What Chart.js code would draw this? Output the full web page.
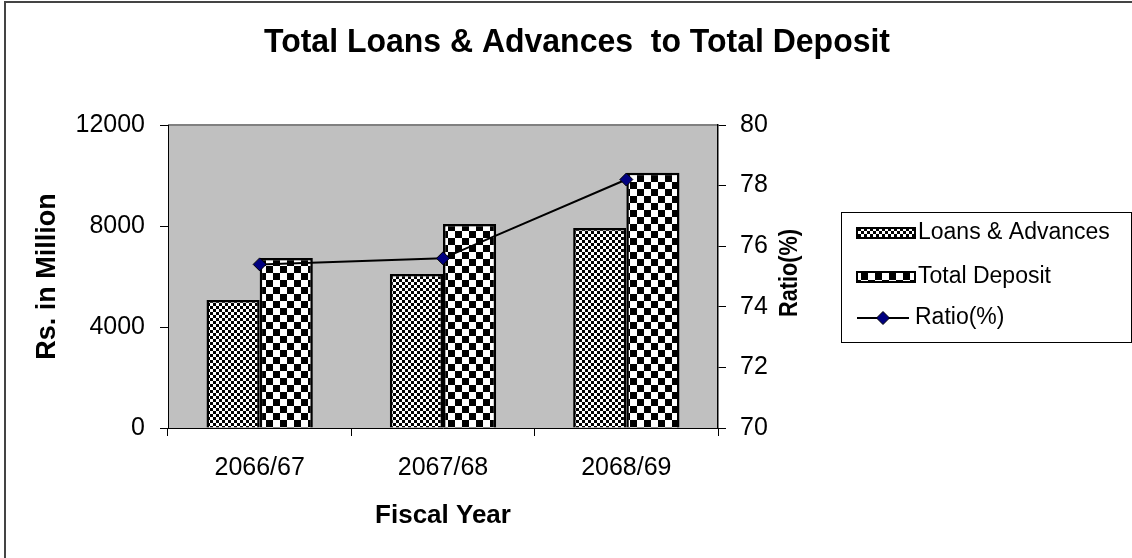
<!DOCTYPE html>
<html>
<head>
<meta charset="utf-8">
<script src="https://cdn.jsdelivr.net/npm/chart.js@4.4.0/dist/chart.umd.min.js"></script>
<style>
  html, body { margin: 0; padding: 0; background: #fff; }
</style>
</head>
<body>
<canvas id="myChart" width="1132" height="558"></canvas>
<script>
// values
const years = ['2066/67', '2067/68', '2068/69'];
const loans = [5070, 6100, 7920];
const deposits = [6730, 8080, 10110];
const ratio = [75.4, 75.6, 78.2];
const leftTicks = [0, 4000, 8000, 12000];
const rightTicks = [70, 72, 74, 76, 78, 80];

Chart.defaults.font.family = '"Liberation Sans", Arial, sans-serif';
Chart.defaults.color = '#000';

// checkerboard fills like the old excel patterns
const checker = (cell) => {
    const c = document.createElement('canvas');
    c.width = cell * 2;
    c.height = cell * 2;
    const g = c.getContext('2d');
    g.fillStyle = '#fff';
    g.fillRect(0, 0, cell * 2, cell * 2);
    g.fillStyle = '#000';
    g.fillRect(0, 0, cell, cell);
    g.fillRect(cell, cell, cell, cell);
    return g.createPattern(c, 'repeat');
}

const smallCheck = checker(3);
const bigCheck = checker(7);

const plotBg = {
    id: 'plotBg',
    beforeDraw(chart) {
        const {ctx, chartArea: a} = chart;
        ctx.save();
        ctx.fillStyle = '#c0c0c0';
        ctx.fillRect(a.left, a.top, a.right - a.left, a.bottom - a.top);
        ctx.strokeStyle = '#808080';
        ctx.lineWidth = 2;
        ctx.beginPath();
        ctx.moveTo(a.left, a.top);
        ctx.lineTo(a.right, a.top);
        ctx.stroke();
        // outer frame (only top and left show)
        ctx.strokeStyle = '#444';
        ctx.lineWidth = 2;
        ctx.beginPath();
        ctx.moveTo(5, 558);
        ctx.lineTo(5, 2);
        ctx.lineTo(1132, 2);
        ctx.stroke();
        ctx.restore();
    }
};

const extras = {
    id: 'extras',
    afterDraw(chart) {
        const ctx = chart.ctx;
        const ds = chart.data.datasets;
        ctx.save();

        // chart title
        ctx.fillStyle = '#000';
        ctx.font = 'bold 34px "Liberation Sans", Arial, sans-serif';
        ctx.textAlign = 'center';
        ctx.textBaseline = 'middle';
        ctx.fillText('Total Loans & Advances  to Total Deposit', 577, 43, 626);

        // right axis title, reads bottom to top
        ctx.save();
        ctx.translate(790, 273);
        ctx.rotate(-Math.PI / 2);
        ctx.font = 'bold 26px "Liberation Sans", Arial, sans-serif';
        ctx.fillText('Ratio(%)', 0, 0, 88);
        ctx.restore();

        // legend
        ctx.strokeStyle = '#000';
        ctx.lineWidth = 1;
        ctx.strokeRect(841.5, 212.5, 290, 130);

        ctx.font = '23px "Liberation Sans", Arial, sans-serif';
        ctx.textAlign = 'left';
        const rows = [233, 277, 318];

        for (let i = 0; i < 2; i++) {
            ctx.fillStyle = ds[i].backgroundColor;
            ctx.fillRect(857, rows[i] - 5, 58, 10);
            ctx.lineWidth = 2;
            ctx.strokeRect(857, rows[i] - 5, 58, 10);
            ctx.fillStyle = '#000';
            ctx.fillText(ds[i].label, 918, rows[i]);
        }

        const y = rows[2];
        ctx.lineWidth = 2;
        ctx.beginPath();
        ctx.moveTo(857, y);
        ctx.lineTo(909, y);
        ctx.stroke();
        ctx.fillStyle = ds[2].pointBackgroundColor;
        ctx.beginPath();
        ctx.moveTo(883 - 6.5, y);
        ctx.lineTo(883, y - 6.5);
        ctx.lineTo(883 + 6.5, y);
        ctx.lineTo(883, y + 6.5);
        ctx.closePath();
        ctx.fill();
        ctx.lineWidth = 1;
        ctx.stroke();
        ctx.fillStyle = '#000';
        ctx.fillText(ds[2].label, 915, y);

        ctx.restore();
    }
};

const plain = (v) => String(v);

const ctx = document.getElementById('myChart');

new Chart(ctx, {
    data: {
        labels: years,
        datasets: [
            {
                type: 'bar',
                label: 'Loans & Advances',
                data: loans,
                backgroundColor: smallCheck,
                borderColor: '#000',
                borderWidth: 2.5,
                yAxisID: 'y',
                order: 2
            },
            {
                type: 'bar',
                label: 'Total Deposit',
                data: deposits,
                backgroundColor: bigCheck,
                borderColor: '#000',
                borderWidth: 2.5,
                yAxisID: 'y',
                order: 2
            },
            {
                type: 'line',
                label: 'Ratio(%)',
                data: ratio,
                borderColor: '#000',
                borderWidth: 2,
                pointStyle: 'rectRot',
                pointRadius: 6.5,
                pointBackgroundColor: '#000080',
                pointBorderColor: '#000',
                pointBorderWidth: 1,
                tension: 0,
                yAxisID: 'y1',
                order: 0
            }
        ]
    },
    options: {
        responsive: false,
        animation: false,
        devicePixelRatio: 1,
        layout: {
            padding: { left: 0, right: 314, top: 125, bottom: 25 }
        },
        datasets: {
            bar: { categoryPercentage: 0.58, barPercentage: 1 }
        },
        plugins: {
            legend: { display: false },
            tooltip: { enabled: false }
        },
        scales: {
            x: {
                grid: { drawOnChartArea: false, tickLength: 8, color: '#000' },
                border: { color: '#000', width: 1 },
                ticks: { font: { size: 25 }, color: '#000', padding: 17 },
                title: {
                    display: true,
                    text: 'Fiscal Year',
                    font: { size: 26, weight: 'bold' },
                    color: '#000',
                    padding: { top: 0, bottom: 2 }
                },
                afterFit: (s) => { s.height = 105; }
            },
            y: {
                position: 'left',
                min: 0,
                max: 12000,
                afterBuildTicks: (a) => { a.ticks = leftTicks.map(v => ({ value: v })); },
                grid: { drawOnChartArea: false, tickLength: 8, color: '#000' },
                border: { color: '#000', width: 1 },
                ticks: { font: { size: 25 }, color: '#000', padding: 15, callback: plain },
                title: {
                    display: true,
                    text: 'Rs. in Million',
                    font: { size: 27, weight: 'bold' },
                    color: '#000',
                    padding: { top: 31, bottom: 0 }
                },
                afterFit: (s) => { s.width = 168; }
            },
            y1: {
                position: 'right',
                min: 70,
                max: 80,
                afterBuildTicks: (a) => { a.ticks = rightTicks.map(v => ({ value: v })); },
                grid: { drawOnChartArea: false, tickLength: 8, color: '#000' },
                border: { color: '#000', width: 1.5 },
                ticks: { font: { size: 25 }, color: '#000', padding: 14, callback: plain },
                afterFit: (s) => { s.width = 100; }
            }
        }
    },
    plugins: [plotBg, extras]
});
</script>
</body>
</html>
